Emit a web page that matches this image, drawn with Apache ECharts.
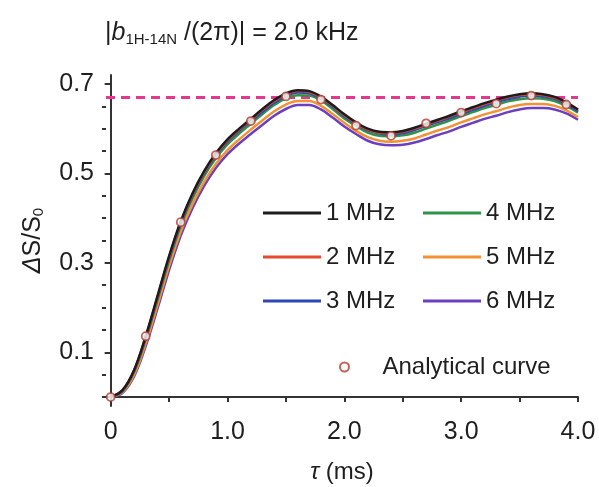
<!DOCTYPE html>
<html><head><meta charset="utf-8">
<script src="https://cdn.jsdelivr.net/npm/echarts@6/dist/echarts.min.js"></script>
<style>html,body{margin:0;padding:0;background:#fff}#c{width:599px;height:487px}</style>
</head><body><div id="c"></div>
<script>
// ---- data ----
const tau = [0.0,0.1,0.2,0.3,0.4,0.5,0.6,0.7,0.8,0.9,1.0,1.1,1.2,1.3,1.4,1.5,1.6,1.7,1.8,1.9,2.0,
             2.1,2.2,2.3,2.4,2.5,2.6,2.7,2.8,2.9,3.0,3.1,3.2,3.3,3.4,3.5,3.6,3.7,3.8,3.9,4.0];
const mhz1 = [0.000,0.015,0.060,0.136,0.225,0.315,0.393,0.455,0.505,0.545,0.576,0.600,0.622,0.644,0.664,0.679,0.686,0.684,0.672,0.653,0.632,
              0.614,0.600,0.593,0.592,0.595,0.602,0.611,0.620,0.629,0.639,0.648,0.657,0.665,0.672,0.677,0.679,0.677,0.671,0.659,0.643];
const mhz2 = [0.000,0.015,0.059,0.135,0.223,0.313,0.391,0.453,0.503,0.543,0.574,0.598,0.620,0.642,0.662,0.677,0.684,0.682,0.670,0.651,0.630,
              0.612,0.598,0.591,0.590,0.593,0.600,0.609,0.618,0.627,0.637,0.646,0.655,0.663,0.670,0.675,0.677,0.675,0.669,0.658,0.642];
const mhz3 = [0.000,0.014,0.058,0.132,0.221,0.310,0.388,0.450,0.500,0.540,0.571,0.595,0.617,0.638,0.658,0.673,0.681,0.679,0.667,0.649,0.628,
              0.610,0.596,0.589,0.587,0.590,0.597,0.606,0.615,0.623,0.633,0.642,0.651,0.659,0.666,0.672,0.674,0.672,0.667,0.655,0.639];
const mhz4 = [0.000,0.013,0.056,0.129,0.216,0.305,0.383,0.444,0.494,0.534,0.565,0.589,0.611,0.633,0.653,0.668,0.675,0.674,0.663,0.644,0.623,
              0.606,0.591,0.584,0.583,0.585,0.591,0.600,0.609,0.618,0.628,0.637,0.646,0.653,0.661,0.666,0.668,0.667,0.662,0.651,0.636];
const mhz5 = [0.000,0.011,0.050,0.120,0.205,0.293,0.370,0.431,0.481,0.521,0.552,0.576,0.598,0.619,0.639,0.654,0.662,0.662,0.651,0.633,0.613,
              0.595,0.581,0.573,0.571,0.573,0.578,0.587,0.596,0.604,0.614,0.623,0.632,0.639,0.647,0.653,0.655,0.655,0.651,0.641,0.626];
const mhz6 = [0.000,0.009,0.046,0.114,0.197,0.284,0.361,0.422,0.472,0.512,0.543,0.567,0.588,0.609,0.629,0.644,0.653,0.653,0.643,0.625,0.605,
              0.588,0.573,0.565,0.563,0.564,0.569,0.577,0.586,0.594,0.604,0.613,0.622,0.629,0.637,0.643,0.646,0.646,0.643,0.634,0.620];
const analyticalTau = [0.0,0.3,0.6,0.9,1.2,1.5,1.8,2.1,2.4,2.7,3.0,3.3,3.6,3.9];
const analyticalVal = [0.000,0.136,0.391,0.541,0.617,0.672,0.665,0.607,0.584,0.612,0.636,0.656,0.674,0.654];
const limitValue = 0.67;
const xLabelTicks = [0,1,2,3,4];
const xTickValues = [0,0.5,1,1.5,2,2.5,3,3.5,4];
const yLabelTicks = [0.1,0.3,0.5,0.7];
const yMinorTicks = [0,0.05,0.15,0.2,0.25,0.35,0.4,0.45,0.55,0.6,0.65];

const names = ['1 MHz','2 MHz','3 MHz','4 MHz','5 MHz','6 MHz'];
const values = [mhz1,mhz2,mhz3,mhz4,mhz5,mhz6];
const colors = ['#1c1c1c','#e8482e','#2b46b5','#2f9444','#f39234','#6b3fbf'];

const FONT = 'Liberation Sans';
const TXT = '#1e1e1e';
const pair = (xs, ys) => xs.map((x,i)=>[x, ys[i]]);

const lineSeries = [];
for (let k = values.length - 1; k >= 0; k--) {
  lineSeries.push({
    name: names[k], type: 'line', smooth: 0.35, showSymbol: false,
    data: pair(tau, values[k]),
    lineStyle: {width: 2.5, color: colors[k]}, itemStyle: {color: colors[k]},
    z: 2 + (values.length - k)
  });
}

const chart = echarts.init(document.getElementById('c'), null, {renderer: 'canvas'});
const legendCommon = {
  orient: 'vertical', icon: 'rect', itemWidth: 58, itemHeight: 3, itemGap: 20,
  textStyle: {fontFamily: FONT, fontSize: 24, color: TXT, lineHeight: 24},
  selectedMode: false
};
chart.setOption({
  animation: false,
  backgroundColor: '#fff',
  title: {
    text: '{t||}{i|b}{s|1H-14N}{t| /(2π)| = 2.0 kHz}',
    left: 100, top: 14,
    textStyle: {
      fontFamily: FONT, fontWeight: 'normal', fontSize: 25, color: TXT,
      rich: {
        t: {fontFamily: FONT, fontSize: 25, color: TXT},
        i: {fontFamily: FONT, fontSize: 25, fontStyle: 'italic', color: TXT},
        s: {fontFamily: FONT, fontSize: 15, color: TXT, verticalAlign: 'bottom', padding: [13, 0, 0, 0]}
      }
    }
  },
  legend: [
    Object.assign({left: 258, top: 196, data: names.slice(0,3)}, legendCommon),
    Object.assign({left: 418, top: 196, data: names.slice(3,6)}, legendCommon),
    {left: 334, top: 350, data: ['Analytical curve'], itemWidth: 66, itemHeight: 9, selectedMode: false,
     textStyle: {fontFamily: FONT, fontSize: 24, color: TXT}}
  ],
  grid: {left: 106, right: 21, top: 75, bottom: 81, containLabel: false, outerBoundsMode: 'none'},
  xAxis: {
    type: 'value', min: -0.04, max: 4.0,
    name: '{i|τ} (ms)', nameLocation: 'middle', nameGap: 54,
    nameTextStyle: {fontFamily: FONT, fontSize: 24, color: TXT,
      rich: {i: {fontFamily: FONT, fontSize: 24, fontStyle: 'italic', color: TXT}}},
    axisLine: {lineStyle: {color: '#333', width: 2}},
    axisTick: {show: true, customValues: xTickValues, length: 5, inside: false, lineStyle: {color: '#333', width: 2}},
    axisLabel: {customValues: xLabelTicks, margin: 14, fontFamily: FONT, fontSize: 25, color: TXT,
      formatter: v => v === 0 ? '0' : v.toFixed(1)},
    splitLine: {show: false}
  },
  yAxis: [
    {
      type: 'value', min: -0.02, max: 0.72, position: 'left',
      name: '{d|Δ}S/S{s|0}', nameLocation: 'middle', nameGap: 60,
      nameTextStyle: {fontFamily: FONT, fontSize: 25, color: TXT,
        rich: {d: {fontFamily: FONT, fontSize: 25, fontStyle: 'italic', color: TXT},
               s: {fontFamily: FONT, fontSize: 15, color: TXT, verticalAlign: 'bottom', padding: [10,0,0,0]}}},
      axisLine: {show: true, lineStyle: {color: '#333', width: 2}},
      axisTick: {show: true, customValues: yLabelTicks, length: 6, lineStyle: {color: '#333', width: 2}},
      axisLabel: {customValues: yLabelTicks, margin: 12, fontFamily: FONT, fontSize: 25, color: TXT,
        formatter: v => v.toFixed(1)},
      splitLine: {show: false}
    },
    {
      type: 'value', min: -0.02, max: 0.72, position: 'left', offset: 0,
      axisLine: {show: false},
      axisTick: {show: true, customValues: yMinorTicks, length: 4, lineStyle: {color: '#333', width: 2}},
      axisLabel: {show: false}, splitLine: {show: false}
    }
  ],
  series: lineSeries.concat([
    {
      name: 'limit', type: 'line', data: [], silent: true,
      markLine: {silent: true, symbol: 'none', label: {show: false},
        lineStyle: {color: '#e8358e', type: [9, 6], width: 3},
        data: [{yAxis: limitValue}]},
      z: 20
    },
    {
      name: 'Analytical curve', type: 'scatter', symbol: 'circle', symbolSize: 8,
      data: pair(analyticalTau, analyticalVal),
      itemStyle: {color: '#ffffff', borderColor: '#b03c32', borderWidth: 1.8},
      z: 30
    }
  ])
});
</script></body></html>
